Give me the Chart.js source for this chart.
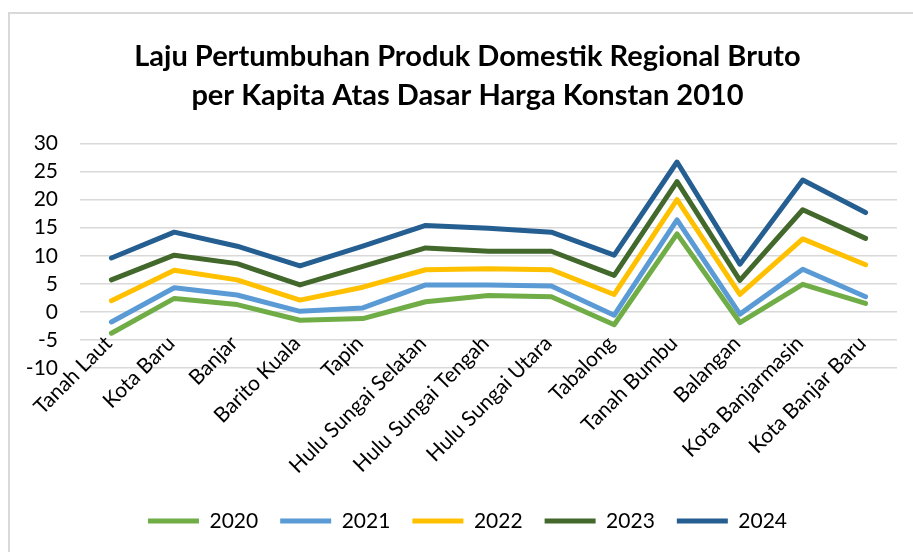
<!DOCTYPE html>
<html>
<head>
<meta charset="utf-8">
<script src="https://cdn.jsdelivr.net/npm/chart.js@4/dist/chart.umd.min.js"></script>
<style>
  html, body { margin: 0; padding: 0; background: #fff; overflow: hidden; }
  #wrap { position: relative; width: 913px; height: 552px; }
  #frame { position: absolute; left: 8px; top: 12px; width: 940px; height: 600px;
           border-left: 2px solid #d9d9d9; border-top: 2px solid #d9d9d9; box-sizing: border-box; }
  canvas { position: absolute; left: 0; top: 0; }
</style>
</head>
<body>
<div id="wrap">
  <div id="frame"></div>
  <canvas id="c" width="913" height="552"></canvas>
</div>
<script>
const titleLines = ["Laju Pertumbuhan Produk Domestik Regional Bruto", "per Kapita Atas Dasar Harga Konstan 2010"];
const categories = ["Tanah Laut", "Kota Baru", "Banjar", "Barito Kuala", "Tapin", "Hulu Sungai Selatan",
  "Hulu Sungai Tengah", "Hulu Sungai Utara", "Tabalong", "Tanah Bumbu", "Balangan",
  "Kota Banjarmasin", "Kota Banjar Baru"];
const seriesNames = ["2020", "2021", "2022", "2023", "2024"];
const values2020 = [-3.8, 2.4, 1.3, -1.5, -1.2, 1.8, 2.9, 2.7, -2.3, 13.9, -1.9, 4.9, 1.5];
const values2021 = [-1.8, 4.3, 3.0, 0.1, 0.7, 4.8, 4.8, 4.6, -0.6, 16.4, -0.4, 7.6, 2.7];
const values2022 = [2.0, 7.4, 5.7, 2.1, 4.4, 7.5, 7.7, 7.5, 3.1, 20.0, 3.1, 13.0, 8.4];
const values2023 = [5.7, 10.1, 8.6, 4.8, 8.1, 11.4, 10.8, 10.8, 6.5, 23.2, 5.6, 18.2, 13.1];
const values2024 = [9.6, 14.2, 11.7, 8.2, 11.7, 15.4, 14.9, 14.2, 10.1, 26.7, 8.5, 23.5, 17.7];
const yMin = -10, yMax = 30, yStep = 5;

const colors = ["#70AD47", "#5B9BD5", "#FFC000", "#43682B", "#255E91"];
const allValues = [values2020, values2021, values2022, values2023, values2024];

const datasets = seriesNames.map((name, i) => ({
  label: name,
  data: allValues[i],
  borderColor: colors[i],
  backgroundColor: colors[i],
  borderWidth: 5,
  borderCapStyle: 'round',
  borderJoinStyle: 'round',
  pointRadius: 0,
  pointStyle: 'line',
  tension: 0,
  fill: false
}));

const FONT = "Lato, 'Noto Sans', sans-serif";

new Chart(document.getElementById('c'), {
  type: 'line',
  data: { labels: categories, datasets },
  options: {
    responsive: false,
    animation: false,
    devicePixelRatio: 1,
    layout: { padding: { left: 0, right: -22, top: 20, bottom: 10.5 } },
    plugins: {
      tooltip: { enabled: false },
      title: {
        display: true,
        text: titleLines,
        color: '#000',
        font: { family: FONT, size: 29, weight: 'bold', lineHeight: '39px' },
        padding: { top: 17.5, bottom: 28 }
      },
      legend: {
        display: true,
        position: 'bottom',
        labels: {
          usePointStyle: true,
          pointStyle: 'line',
          pointStyleWidth: 51,
          padding: 22,
          color: '#000',
          font: { family: FONT, size: 21 }
        }
      }
    },
    scales: {
      x: {
        type: 'category',
        position: { y: yMin },
        offset: true,
        grid: { display: false, drawTicks: false },
        border: { display: false },
        ticks: {
          autoSkip: false,
          minRotation: 45,
          maxRotation: 45,
          padding: -37,
          labelOffset: -3,
          color: '#000',
          font: { family: FONT, size: 21 }
        }
      },
      xSpace: {
        type: 'category',
        axis: 'x',
        position: 'bottom',
        offset: true,
        grid: { display: false, drawTicks: false },
        border: { display: false },
        ticks: { display: false },
        afterFit: (s) => { s.height = 120.5; }
      },
      y: {
        min: yMin,
        max: yMax,
        ticks: { stepSize: yStep, autoSkip: false, padding: 22, color: '#000', font: { family: FONT, size: 21 } },
        grid: { color: '#d9d9d9', lineWidth: 1.5, drawTicks: false },
        border: { display: false },
        afterFit: (s) => { s.width = 80; }
      },
      ySpace: {
        type: 'linear',
        axis: 'y',
        position: 'right',
        grid: { display: false, drawTicks: false },
        border: { display: false },
        ticks: { display: false },
        afterFit: (s) => { s.width = 38; }
      }
    }
  }
});
</script>
</body>
</html>
